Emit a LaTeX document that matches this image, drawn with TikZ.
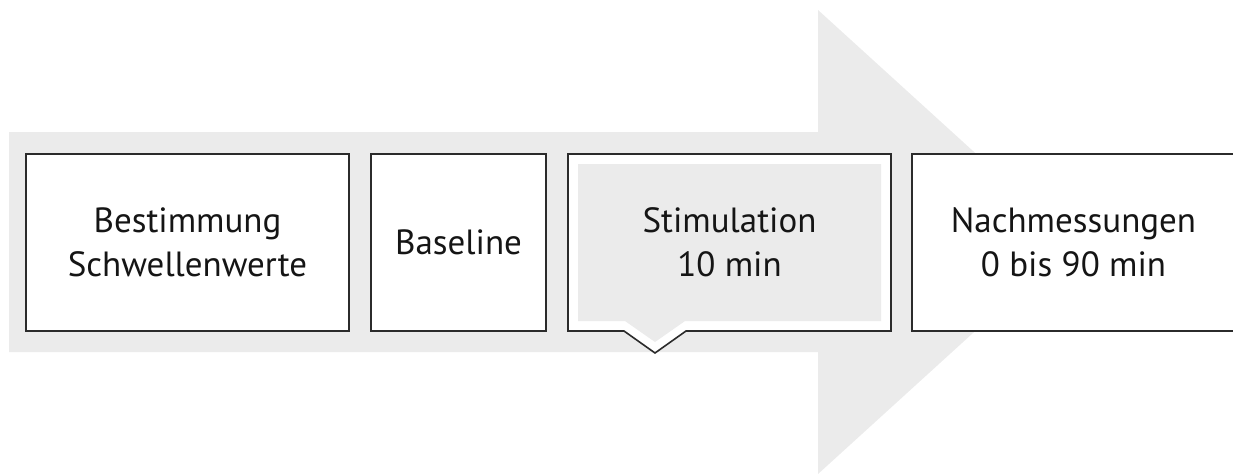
\documentclass[tikz,border=0pt]{standalone}
\usepackage{fontspec}
\setmainfont{PT Sans}
\usepackage{tikz}
\usetikzlibrary{positioning,calc,backgrounds}
\definecolor{arrowgrey}{HTML}{EBEBEB}
\definecolor{boxline}{HTML}{2B2B2B}
\definecolor{inktext}{HTML}{151515}

\tikzset{
  stepbox/.style={rectangle,draw=boxline,line width=1.6pt,fill=white,outer sep=0pt,
    minimum width=323pt,minimum height=177pt,align=center,text=inktext,
    font=\fontsize{35}{44}\selectfont},
  callbox/.style={stepbox,draw=none,fill=none}
}

\begin{document}
\begin{tikzpicture}[x=1pt,y=-1pt]
\useasboundingbox (0,0) rectangle (1233,476);
\node[stepbox] (best) at (187.5,242.5) {Bestimmung\\Schwellenwerte};
\node[stepbox,minimum width=175pt,right=22pt of best] (base) {Baseline};
\node[callbox,right=22pt of base] (stim) {Stimulation\\10 min};
\node[stepbox,right=21pt of stim] (nach) {Nachmessungen\\0 bis 90 min};
\begin{scope}[on background layer]
  % big arrow behind the boxes
  \fill[arrowgrey] (9,132) -- (818,132) -- (818,10) -- (1073,242) -- (818,474)
    -- (818,352) -- (9,352) -- cycle;
  % callout for the stimulation step
  \draw[draw=boxline,line width=1.6pt,fill=white] (stim.north west) -- (stim.north east)
    -- (stim.south east) -- ($(stim.south west)+(118,0)$) -- ($(stim.south west)+(87,22)$)
    -- ($(stim.south west)+(56,0)$) -- (stim.south west) -- cycle;
  \fill[arrowgrey] ($(stim.north west)+(10,10)$) -- ($(stim.north east)+(-10,10)$)
    -- ($(stim.south east)+(-10,-10)$) -- ($(stim.south west)+(117,-10)$)
    -- ($(stim.south west)+(87,11)$) -- ($(stim.south west)+(57,-10)$)
    -- ($(stim.south west)+(10,-10)$) -- cycle;
\end{scope}
\end{tikzpicture}
\end{document}
